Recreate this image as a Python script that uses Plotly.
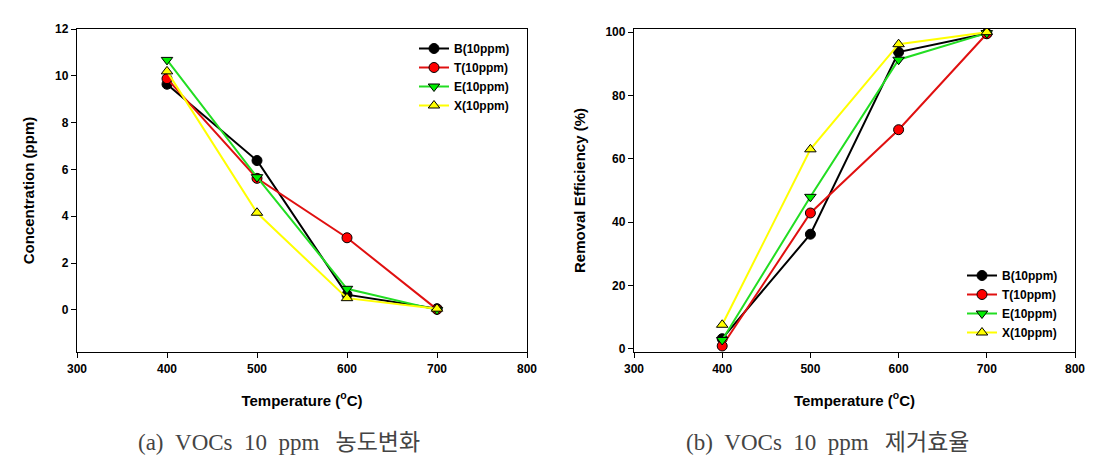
import plotly.graph_objects as go

temps = [400, 500, 600, 700]
series_names = ["B(10ppm)", "T(10ppm)", "E(10ppm)", "X(10ppm)"]

# (a) concentration (ppm)
conc_B = [9.64, 6.38, 0.65, 0.05]
conc_T = [9.88, 5.62, 3.08, 0.02]
conc_E = [10.68, 5.67, 0.90, 0.00]
conc_X = [10.19, 4.15, 0.50, 0.05]

# (b) removal efficiency (%)
eff_B = [3.2, 36.2, 93.7, 99.6]
eff_T = [0.9, 42.9, 69.2, 99.5]
eff_E = [2.8, 48.0, 91.3, 99.7]
eff_X = [7.6, 63.0, 96.2, 100.0]

x_ticks = [300, 400, 500, 600, 700, 800]
y1_ticks = [0, 2, 4, 6, 8, 10, 12]
y2_ticks = [0, 20, 40, 60, 80, 100]

captions = ["(a)\u2002VOCs\u200210\u2002ppm\u2002\u2009농도변화",
            "(b)\u2002VOCs\u200210\u2002ppm\u2002\u2009제거효율"]

line_colors = ["#000000", "#e01010", "#22dd22", "#ffff00"]
fill_colors = ["#000000", "#ff0000", "#00ee00", "#ffff00"]
symbols = ["circle", "circle", "triangle-down", "triangle-up"]

# page is 1097x463; browser body margin offsets the figure by 8px
OFF = 8
W, H = 1097 - OFF, 463 - OFF
fig = go.Figure()

def px_x(p):
    return (p - OFF) / W

def px_y(p):
    return 1 - (p - OFF) / H

for i, (name, ys) in enumerate(zip(series_names, [conc_B, conc_T, conc_E, conc_X])):
    fig.add_trace(go.Scatter(
        x=temps, y=ys, name=f"<b>{name}</b>", mode="lines+markers",
        line=dict(color=line_colors[i], width=2),
        marker=dict(symbol=symbols[i], size=10, color=fill_colors[i],
                    line=dict(color="#000000", width=1)),
        xaxis="x", yaxis="y", legend="legend"))

for i, (name, ys) in enumerate(zip(series_names, [eff_B, eff_T, eff_E, eff_X])):
    fig.add_trace(go.Scatter(
        x=temps, y=ys, name=f"<b>{name}</b>", mode="lines+markers",
        line=dict(color=line_colors[i], width=2),
        marker=dict(symbol=symbols[i], size=10, color=fill_colors[i],
                    line=dict(color="#000000", width=1)),
        xaxis="x2", yaxis="y2", legend="legend2"))

tickfont = dict(family="Arial, Liberation Sans, sans-serif", size=12, color="#000000")
titlefont = dict(family="Arial, Liberation Sans, sans-serif", size=15, color="#000000")

def xaxis(domain, anchor):
    return dict(domain=domain, anchor=anchor, range=[300, 800], tickvals=x_ticks,
                ticktext=[f"<b>{v}</b>" for v in x_ticks], automargin=False,
                ticks="outside", ticklen=5, tickwidth=1, tickcolor="#000",
                showline=True, linecolor="#000", linewidth=1.3, mirror=True,
                showgrid=False, zeroline=False, tickfont=tickfont,
                title=dict(text="<b>Temperature (<sup>o</sup>C)</b>", font=titlefont, standoff=20))

def yaxis(domain, anchor, rng, ticks, title):
    return dict(domain=domain, anchor=anchor, range=rng, tickvals=ticks,
                ticktext=[f"<b>{v}</b>" for v in ticks], automargin=False,
                ticks="outside", ticklen=5, tickwidth=1, tickcolor="#000",
                showline=True, linecolor="#000", linewidth=1.3, mirror=True,
                showgrid=False, zeroline=False, tickfont=tickfont,
                title=dict(text=f"<b>{title}</b>", font=titlefont, standoff=16))

ydom = [px_y(352), px_y(29)]
legfont = dict(family="Arial, Liberation Sans, sans-serif", size=12, color="#000000")
capfont = dict(family="Liberation Serif, Noto Sans CJK KR, serif", size=23, color="#444444")

fig.update_layout(
    width=W, height=H,
    margin=dict(l=0, r=0, t=0, b=0, autoexpand=False),
    paper_bgcolor="white", plot_bgcolor="white",
    showlegend=True,
    xaxis=xaxis([px_x(77), px_x(527)], "y"),
    yaxis=yaxis(ydom, "x", [-1.8, 12], y1_ticks, "Concentration (ppm)"),
    xaxis2=xaxis([px_x(634), px_x(1075)], "y2"),
    yaxis2=yaxis(ydom, "x2", [-1, 101], y2_ticks, "Removal Efficiency (%)"),
    legend=dict(x=px_x(414), y=px_y(34), xanchor="left", yanchor="top",
                font=legfont, bgcolor="rgba(0,0,0,0)", tracegroupgap=0,
                itemwidth=30),
    legend2=dict(x=px_x(962), y=px_y(261), xanchor="left", yanchor="top",
                 font=legfont, bgcolor="rgba(0,0,0,0)", tracegroupgap=0,
                 itemwidth=30),
    annotations=[
        dict(text=captions[0], x=px_x(279), y=px_y(442), xref="paper", yref="paper",
             showarrow=False, xanchor="center", yanchor="middle", font=capfont),
        dict(text=captions[1], x=px_x(827), y=px_y(442), xref="paper", yref="paper",
             showarrow=False, xanchor="center", yanchor="middle", font=capfont),
    ],
)

fig.write_html("out.html")
